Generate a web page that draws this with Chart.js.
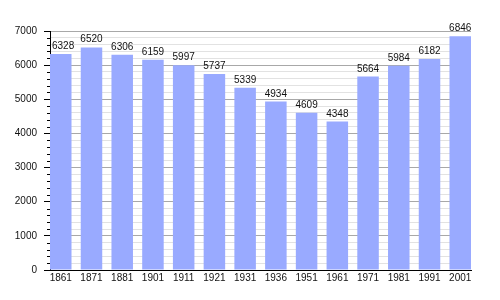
<!DOCTYPE html>
<html>
<head>
<meta charset="utf-8">
<script src="https://cdn.jsdelivr.net/npm/chart.js@4"></script>
<style>
  html, body { margin: 0; padding: 0; background: #fff; }
  #wrap { width: 500px; height: 300px; }
</style>
</head>
<body>
<div id="wrap"><canvas id="popChart" width="500" height="300"></canvas></div>
<script>
const years = ["1861", "1871", "1881", "1901", "1911", "1921", "1931", "1936", "1951", "1961", "1971", "1981", "1991", "2001"];
const population = [6328, 6520, 6306, 6159, 5997, 5737, 5339, 4934, 4609, 4348, 5664, 5984, 6182, 6846];
const yMax = 7000;
const majorStep = 1000;
const minorStep = 200;
// bars sit flush against both ends of the plot, so pad the index range a bit
const edgePad = 0.35;

const isMajor = v => v % majorStep === 0;
const points = population.map((v, i) => ({ x: i, y: v }));

// value labels above the bars, kept inside the plot area
const barLabels = {
  id: "barLabels",
  afterDraw(chart) {
    const c = chart.ctx;
    const area = chart.chartArea;
    const meta = chart.getDatasetMeta(0);
    c.save();
    c.font = "10px 'Liberation Sans', Arial, sans-serif";
    c.fillStyle = "#111";
    c.textAlign = "left";
    c.textBaseline = "alphabetic";
    meta.data.forEach((bar, i) => {
      const txt = String(population[i]);
      const w = c.measureText(txt).width;
      let x = bar.x - w / 2;
      if (x < area.left + 2) x = area.left + 2;
      if (x + w > chart.width - 2) x = chart.width - 2 - w;
      c.fillText(txt, x, bar.y - 5);
    });
    c.restore();
  }
};

// short ticks for the minor steps on the y axis
const minorTicks = {
  id: "minorTicks",
  afterDraw(chart) {
    const y = chart.scales.y;
    const c = chart.ctx;
    c.save();
    c.strokeStyle = "#000";
    c.lineWidth = 1;
    y.ticks.forEach(t => {
      if (isMajor(t.value)) return;
      const py = Math.round(y.getPixelForValue(t.value)) + 0.5;
      c.beginPath();
      c.moveTo(y.right - 3, py);
      c.lineTo(y.right, py);
      c.stroke();
    });
    c.restore();
  }
};

new Chart(document.getElementById("popChart"), {
  type: "bar",
  data: {
    datasets: [{
      data: points,
      backgroundColor: "#99aaff",
      borderWidth: 0,
      barPercentage: 0.7,
      categoryPercentage: 1.0
    }]
  },
  options: {
    responsive: false,
    animation: false,
    layout: { padding: { top: 31, right: 29, left: 0, bottom: 0 } },
    plugins: { legend: { display: false }, tooltip: { enabled: false } },
    scales: {
      x: {
        type: "linear",
        offset: false,
        min: -edgePad,
        max: years.length - 1 + edgePad,
        afterFit: s => { s.height = 30; },
        afterBuildTicks: s => { s.ticks = years.map((_, i) => ({ value: i })); },
        grid: { display: false, drawTicks: false },
        border: { color: "#000", width: 1 },
        ticks: {
          padding: 2,
          color: "#111",
          maxRotation: 0,
          autoSkip: false,
          font: { size: 10, family: "'Liberation Sans', Arial, sans-serif" },
          callback: v => years[v] ?? ""
        }
      },
      y: {
        min: 0,
        max: yMax,
        afterFit: s => { s.width = 50; },
        border: { color: "#000", width: 1 },
        grid: {
          color: ctx => isMajor(ctx.tick.value) ? "#a8a8a8" : "#e2e2e2",
          tickColor: ctx => isMajor(ctx.tick.value) ? "#000" : "rgba(0,0,0,0)",
          tickLength: 6,
          lineWidth: 1
        },
        ticks: {
          stepSize: minorStep,
          autoSkip: false,
          padding: 7,
          color: "#111",
          font: { size: 10, family: "'Liberation Sans', Arial, sans-serif" },
          callback: v => isMajor(v) ? String(v) : ""
        }
      }
    }
  },
  plugins: [barLabels, minorTicks]
});
</script>
</body>
</html>
